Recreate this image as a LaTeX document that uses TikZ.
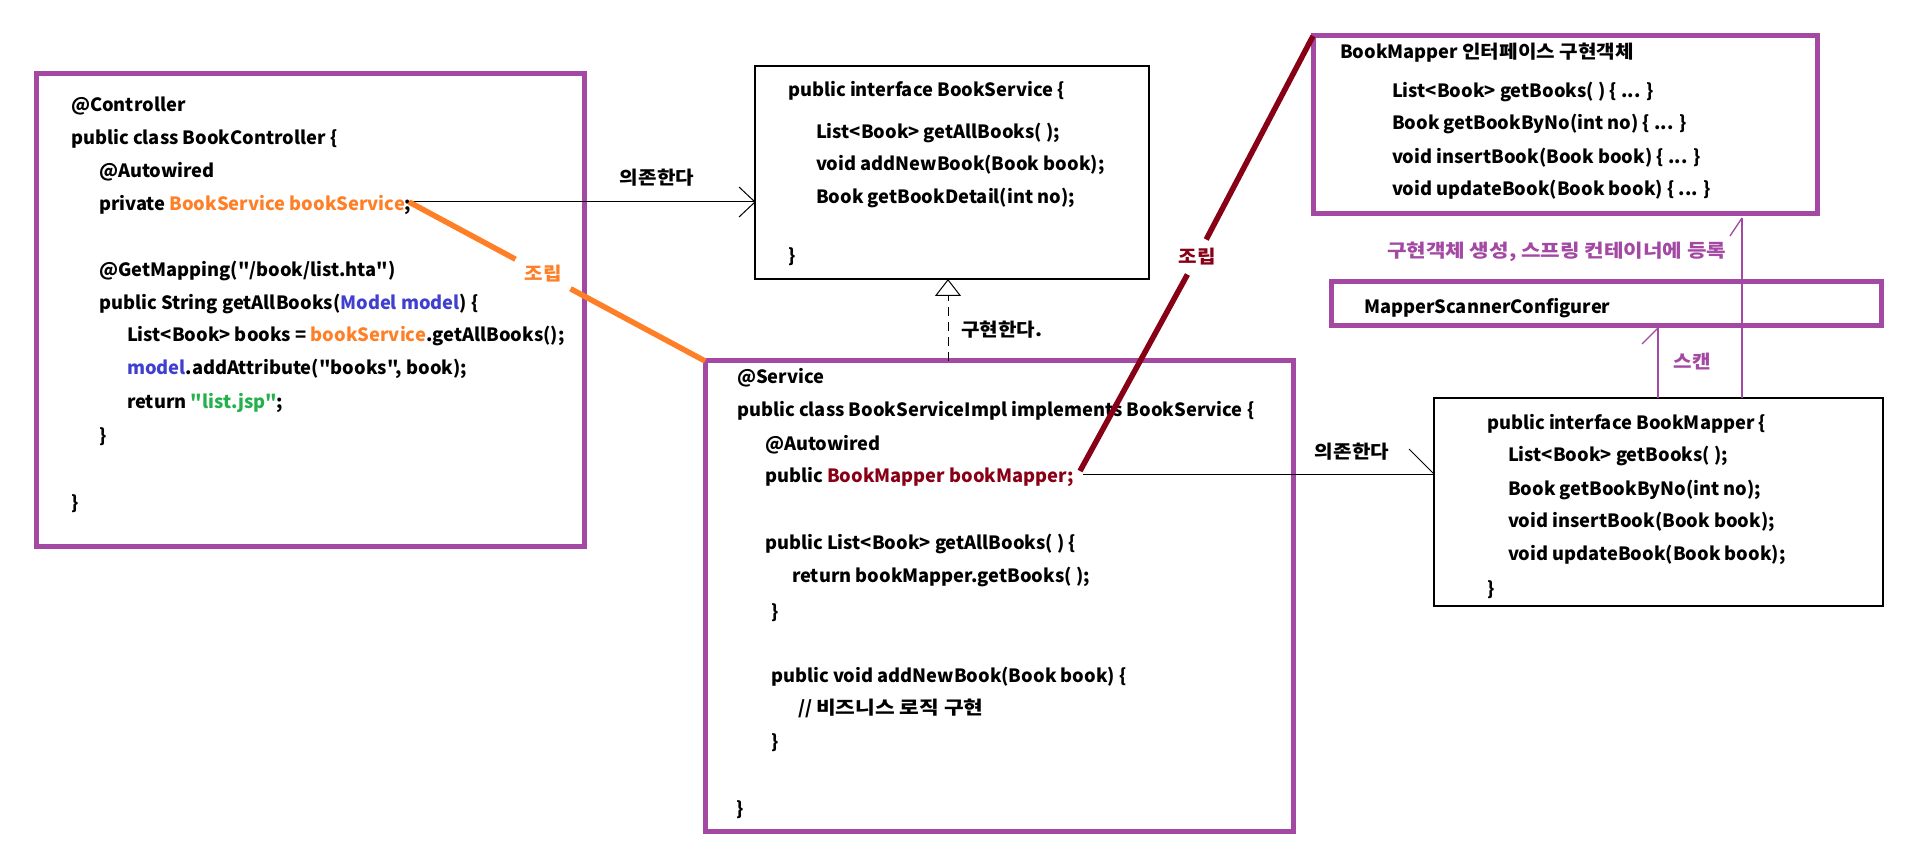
\documentclass[tikz,border=0pt]{standalone}
\usepackage{fontspec}
\usepackage{graphicx}
\setmainfont{Noto Sans CJK KR}[Ligatures=TeXOff]
\usetikzlibrary{arrows.meta}
\definecolor{ppl}{HTML}{A349A4}
\definecolor{org}{HTML}{FF7F27}
\definecolor{dred}{HTML}{880015}
\definecolor{grn}{HTML}{22B14C}
\definecolor{blu}{HTML}{4040D0}
\newcommand\codefont{\fontsize{18.3}{22}\selectfont\bfseries}
\newcommand\kr[1]{\scalebox{1.1}[1]{#1}}
\begin{document}
\begin{tikzpicture}[x=1pt,y=-1pt,
  pbox/.style={draw=ppl, line width=5pt, inner sep=0, outer sep=0, anchor=north west},
  bbox/.style={draw=black, line width=1.2pt, inner sep=0, outer sep=0, anchor=north west},
  code/.style={anchor=base west, inner sep=0, outer sep=0, font=\codefont},
  lab/.style={inner sep=0, outer sep=0, font=\codefont},
  thinline/.style={draw=black, line width=1pt},
  pline/.style={draw=ppl, line width=1.3pt},
  asmO/.style={draw=org, line width=5.5pt},
  asmR/.style={draw=dred, line width=5.5pt}]
\useasboundingbox[fill=white] (0,0) rectangle (1906,858);

% boxes
\node[pbox, minimum width=548pt, minimum height=472pt] (ctrl) at (36,74) {};
\node[bbox, minimum width=394pt, minimum height=213pt] (bs) at (755,66) {};
\node[pbox, minimum width=588pt, minimum height=470pt] (svc) at (705,361) {};
\node[pbox, minimum width=504pt, minimum height=178pt] (bmi) at (1313,36) {};
\node[pbox, minimum width=550pt, minimum height=44pt] (msc) at (1331,282) {};
\node[bbox, minimum width=449pt, minimum height=208pt] (bmif) at (1434,398) {};

% controller code
\node[code] (l1) at (71,112) {@Controller};
\node[code] (l2) at (71,145) {public class BookController \{};
\node[code] (l3) at (99,178) {@Autowired};
\node[code] (l4) at (99,211) {private \textcolor{org}{BookService bookService};};
\node[code] (l5) at (99,277) {@GetMapping("/book/list.hta")};
\node[code] (l6) at (99,310) {public String getAllBooks(\textcolor{blu}{Model model}) \{};
\node[code] (l7) at (127,342) {List<Book> books = \textcolor{org}{bookService}.getAllBooks();};
\node[code] (l8) at (127,375) {\textcolor{blu}{model}.addAttribute("books", book);};
\node[code] (l9) at (127,409) {return \textcolor{grn}{"list.jsp"};};
\node[code] (l10) at (99,442) {\}};
\node[code] (l11) at (71,509) {\}};

% BookService interface
\node[code] (b1) at (788,97) {public interface BookService \{};
\node[code] (b2) at (816,139) {List<Book> getAllBooks( );};
\node[code] (b3) at (816,171) {void addNewBook(Book book);};
\node[code] (b4) at (816,204) {Book getBookDetail(int no);};
\node[code] (b5) at (788,263) {\}};

% service impl
\node[code] (s1) at (737,384) {@Service};
\node[code] (s2) at (737,417) {public class BookServiceImpl implements BookService \{};
\node[code] (s3) at (765,450) {@Autowired};
\node[code] (s4) at (765,482) {public \textcolor{dred}{BookMapper bookMapper;}};
\node[code] (s5) at (765,549) {public List<Book> getAllBooks( ) \{};
\node[code] (s6) at (792,582) {return bookMapper.getBooks( );};
\node[code] (s7) at (771,618) {\}};
\node[code] (s8) at (771,682) {public void addNewBook(Book book) \{};
\node[code] (s9) at (798,714) {// \scalebox{1.17}[1]{비즈니스 로직 구현}};
\node[code] (s10) at (771,748) {\}};
\node[code] (s11) at (736,815) {\}};

% BookMapper impl object
\node[code] (m1) at (1340,59) {BookMapper \kr{인터페이스 구현객체}};
\node[code] (m2) at (1392,98) {List<Book> getBooks( ) \{ ... \}};
\node[code] (m3) at (1392,130) {Book getBookByNo(int no) \{ ... \}};
\node[code] (m4) at (1392,164) {void insertBook(Book book) \{ ... \}};
\node[code] (m5) at (1392,196) {void updateBook(Book book) \{ ... \}};

\node[code] (c1t) at (1364,314) {MapperScannerConfigurer};

% BookMapper interface
\node[code] (f1) at (1487,429) {public interface BookMapper \{};
\node[code] (f2) at (1508,461) {List<Book> getBooks( );};
\node[code] (f3) at (1508,495) {Book getBookByNo(int no);};
\node[code] (f4) at (1508,527) {void insertBook(Book book);};
\node[code] (f5) at (1508,560) {void updateBook(Book book);};
\node[code] (f6) at (1487,595) {\}};

% dependency 1
\coordinate (c1) at (409,202);
\draw[thinline] (c1) -- (c1 -| bs.west) coordinate (t1);
\draw[thinline] (t1) -- ++(-16,-15) (t1) -- ++(-16,15);
\node[lab] (dep1) at (657,178) {\kr{의존한다}};

% assembly (orange)
\node[lab, text=org, inner sep=9pt] (asm1) at (543,274) {\kr{조립}};
\draw[asmO] (c1) -- (asm1);
\draw[asmO] (asm1) -- (svc.north west);

% realization
\coordinate (r0) at (948,0);
\draw[line width=1pt, dash pattern=on 9pt off 6pt, -{Triangle[open,length=17pt,width=26pt]}] (r0 |- svc.north) -- (r0 |- bs.south);
\node[lab, anchor=west] (impl) at (961,330) {\kr{구현한다.}};

% assembly (dark red)
\coordinate (c2) at (1080,471);
\node[lab, text=dred, inner sep=9pt] (asm2) at (1197,257) {\kr{조립}};
\draw[asmR] (c2) -- (asm2);
\draw[asmR] (asm2) -- (bmi.north west);

% dependency 2
\coordinate (c3) at (1083,474);
\draw[thinline] (c3) -- (c3 -| bmif.west) coordinate (t2);
\draw[thinline] (t2) -- ++(-25,-25);
\node[lab] (dep2) at (1352,452) {\kr{의존한다}};

% registration / scan
\coordinate (p1) at (1742,0);
\draw[pline] (p1 |- bmif.north) -- (1742,218) coordinate (t3);
\draw[pline] (t3) -- ++(-12,18);
\node[lab, text=ppl, anchor=west] (reg) at (1387,252) {\scalebox{1.16}[1]{구현객체 생성, 스프링 컨테이너에 등록}};

\coordinate (p2) at (1658,0);
\draw[pline] (p2 |- bmif.north) -- (1658,328) coordinate (t4);
\draw[pline] (t4) -- ++(-16,16);
\node[lab, text=ppl] (scan) at (1692,362) {\kr{스캔}};
\end{tikzpicture}
\end{document}
